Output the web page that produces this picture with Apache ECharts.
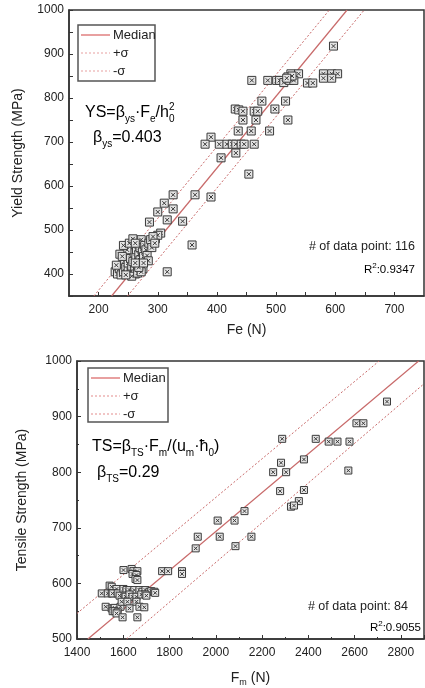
<!DOCTYPE html>
<html>
<head>
<meta charset="utf-8">
<script src="https://cdn.jsdelivr.net/npm/echarts@6/dist/echarts.min.js"></script>
<style>
  html, body { margin: 0; padding: 0; background: #fff; }
  #main { width: 425px; height: 688px; }
</style>
</head>
<body>
<div id="main"></div>
<script>
// 屈服强度 vs Fe
var ysPoints = [
  [597,918],[580,855],[594,855],[604,855],[580,845],[594,845],[525,855],[538,855],
  [459,840],[486,840],[501,840],[506,840],[513,835],[523,840],[530,840],[553,834],[562,834],
  [520,848],[527,850],[518,845],
  [476,793],[516,793],[431,775],[437,773],[444,770],[463,770],[469,770],[498,775],
  [444,750],[466,750],[520,750],[436,725],[458,725],[489,725],[390,711],
  [380,695],[404,695],[417,695],[426,695],[432,695],[441,695],[446,695],[463,695],
  [432,675],[407,664],[454,627],[363,580],[390,575],[326,580],[311,561],[326,548],
  [300,541],[286,518],[316,523],[342,520],[305,493],[358,466],[316,405],[296,480],[300,488],
  [228,405],[232,400],[235,412],[238,398],[240,420],[242,405],[244,430],[245,440],
  [246,415],[248,400],[250,410],[250,425],[252,445],[254,435],[255,402],[256,418],
  [258,460],[258,428],[260,448],[261,410],[262,400],[263,438],[264,455],[265,470],
  [266,420],[268,445],[270,432],[270,460],[272,478],[274,450],[275,412],[276,440],
  [278,465],[280,455],[282,442],[285,470],[288,478],[290,460],[292,485],[295,470],
  [248,455],[236,445],[242,465],[252,470],[258,480],[262,470],[230,420],[240,440],
  [256,395],[266,402],[272,405],[284,430],[268,415],[246,398],[276,425],[262,425]
];
var ysMedian = [[222,350],[620,1000]];
var ysPlus = [[192,350],[590,1000]];
var ysMinus = [[249,350],[649,1000]];

// 抗拉强度 vs Fm
var tsPoints = [
  [2740,927],[2608,888],[2638,888],[2287,860],[2432,860],[2488,855],[2526,855],[2578,855],
  [2381,823],[2282,817],[2248,800],[2304,800],[2573,803],[2278,766],[2381,768],[2359,748],
  [2325,738],[2338,740],[2124,730],[2008,713],[2081,713],[1922,684],[2017,684],[2154,684],
  [1913,663],[2085,667],[1768,622],[1794,622],[1854,622],[1854,617],
  [1601,624],[1636,626],[1644,622],[1661,622],[1640,617],[1657,615],[1653,608],[1661,606],
  [1541,596],[1550,594],[1571,590],[1507,582],[1533,582],[1550,582],[1554,582],[1576,582],
  [1601,590],[1614,588],[1627,588],[1644,585],[1648,588],[1670,588],[1683,585],[1696,588],
  [1713,585],[1721,586],[1734,585],[1738,583],
  [1584,578],[1606,578],[1610,576],[1627,580],[1640,576],[1657,576],[1678,580],[1696,580],[1700,578],
  [1524,558],[1550,555],[1558,555],[1563,556],[1588,558],[1593,567],[1618,567],[1627,555],
  [1657,567],[1670,558],[1691,557],
  [1554,550],[1563,550],[1576,548],[1571,546],[1597,539],[1661,539]
];
var tsMedian = [[1447,500],[2877,1000]];
var tsPlus = [[1400,546],[2706,1000]];
var tsMinus = [[1614,500],[2900,959]];

var FONT = '"Liberation Sans", Arial, sans-serif';
var AX = '#333';
var RED = '#c86a6a';
var SYM = 'path://M0,0H10V10H0Z M2.5,2.5L7.5,7.5 M7.5,2.5L2.5,7.5';

function axisBase(extra) {
  var a = {
    axisLine: { onZero: false, lineStyle: { color: AX, width: 1.5 } },
    axisTick: { inside: true, length: 4, lineStyle: { color: AX } },
    minorTick: { show: true, splitNumber: 2, length: 2, lineStyle: { color: AX } },
    splitLine: { show: false },
    axisLabel: { color: '#222', fontSize: 12, fontFamily: FONT, margin: 8 },
    nameTextStyle: { color: '#222', fontSize: 14, fontFamily: FONT }
  };
  for (var k in extra) a[k] = extra[k];
  return a;
}
function hundreds(v) { return v % 100 === 0 ? String(v) : ''; }
function plain(v) { return String(v); }

var subRich = {
  a: { fontSize: 16, fontFamily: FONT, color: '#222', lineHeight: 22 },
  s: { fontSize: 10, fontFamily: FONT, color: '#222', lineHeight: 10, verticalAlign: 'bottom' },
  z: { fontSize: 10, fontFamily: FONT, color: '#222', lineHeight: 10, verticalAlign: 'bottom', width: 0.01 },
  p: { fontSize: 10, fontFamily: FONT, color: '#222', lineHeight: 10, verticalAlign: 'top' }
};

function legendBox(x, y, w, h, dy) {
  var items = [];
  items.push({ type: 'rect', shape: { x: x, y: y, width: w, height: h },
    style: { fill: '#fff', stroke: '#555', lineWidth: 1.5 }, z: 10 });
  var rows = [['Median', 'solid', 2], ['+σ', [2, 2], 1.2], ['-σ', [2, 2], 1.2]];
  rows.forEach(function (r, i) {
    var yy = y + 10 + i * dy;
    items.push({ type: 'line', shape: { x1: x + 3, y1: yy, x2: x + 32, y2: yy },
      style: { stroke: '#e8a0a0', lineWidth: r[2], lineDash: r[1] === 'solid' ? null : r[1] }, z: 11 });
    items.push({ type: 'text', x: x + 35, y: yy, z: 11,
      style: { text: r[0], fill: '#222', font: '13px ' + FONT, verticalAlign: 'middle' } });
  });
  return items;
}

var chart = echarts.init(document.getElementById('main'), null, { renderer: 'canvas' });
var option = {
  animation: false,
  backgroundColor: '#fff',
  grid: [
    { left: 69, top: 10, width: 355, height: 286, show: true, borderColor: AX, borderWidth: 1.5 },
    { left: 77, top: 361, width: 347, height: 282, show: true, borderColor: AX, borderWidth: 1.5 }
  ],
  xAxis: [
    axisBase({ gridIndex: 0, type: 'value', min: 150, max: 750, interval: 50,
      name: 'Fe (N)', nameLocation: 'middle', nameGap: 27,
      axisLabel: { color: '#222', fontSize: 12, fontFamily: FONT, margin: 8, formatter: hundreds, showMinLabel: false, showMaxLabel: false },
      minorTick: { show: false } }),
    axisBase({ gridIndex: 1, type: 'value', min: 1400, max: 2900, interval: 200,
      name: '{a|F}{s|m}{a| (N)}', nameLocation: 'middle', nameGap: 30,
      nameTextStyle: { rich: {
        a: { fontSize: 14, fontFamily: FONT, color: '#222', lineHeight: 18 },
        s: { fontSize: 9, fontFamily: FONT, color: '#222', lineHeight: 9, verticalAlign: 'bottom' } } },
      axisLabel: { color: '#222', fontSize: 12, fontFamily: FONT, margin: 8, formatter: plain, showMaxLabel: false } })
  ],
  yAxis: [
    axisBase({ gridIndex: 0, type: 'value', min: 350, max: 1000, interval: 50,
      name: 'Yield Strength (MPa)', nameLocation: 'middle', nameGap: 44,
      axisLabel: { color: '#222', fontSize: 12, fontFamily: FONT, margin: 5, formatter: hundreds },
      minorTick: { show: false } }),
    axisBase({ gridIndex: 1, type: 'value', min: 500, max: 1000, interval: 100,
      name: 'Tensile Strength (MPa)', nameLocation: 'middle', nameGap: 48,
      axisLabel: { color: '#222', fontSize: 12, fontFamily: FONT, margin: 5, formatter: plain } })
  ],
  series: [
    { type: 'line', xAxisIndex: 0, yAxisIndex: 0, data: ysMedian, showSymbol: false, silent: true,
      lineStyle: { color: RED, width: 1.2 }, z: 1 },
    { type: 'line', xAxisIndex: 0, yAxisIndex: 0, data: ysPlus, showSymbol: false, silent: true,
      lineStyle: { color: RED, width: 1, type: [2, 2] }, z: 1 },
    { type: 'line', xAxisIndex: 0, yAxisIndex: 0, data: ysMinus, showSymbol: false, silent: true,
      lineStyle: { color: RED, width: 1, type: [2, 2] }, z: 1 },
    { type: 'scatter', xAxisIndex: 0, yAxisIndex: 0, data: ysPoints, symbol: SYM, symbolSize: 8,
      itemStyle: { color: '#e4e4e4', borderColor: '#3a3a3a', borderWidth: 1, opacity: 1 }, z: 2 },
    { type: 'line', xAxisIndex: 1, yAxisIndex: 1, data: tsMedian, showSymbol: false, silent: true,
      lineStyle: { color: RED, width: 1.2 }, z: 1 },
    { type: 'line', xAxisIndex: 1, yAxisIndex: 1, data: tsPlus, showSymbol: false, silent: true,
      lineStyle: { color: RED, width: 1, type: [2, 2] }, z: 1 },
    { type: 'line', xAxisIndex: 1, yAxisIndex: 1, data: tsMinus, showSymbol: false, silent: true,
      lineStyle: { color: RED, width: 1, type: [2, 2] }, z: 1 },
    { type: 'scatter', xAxisIndex: 1, yAxisIndex: 1, data: tsPoints, symbol: SYM, symbolSize: 7,
      itemStyle: { color: '#e4e4e4', borderColor: '#3a3a3a', borderWidth: 1, opacity: 1 }, z: 2 }
  ],
  graphic: [].concat(
    legendBox(78, 25, 77, 56, 18),
    legendBox(88, 368, 80, 54, 18),
    [
      { type: 'text', x: 85, y: 113, z: 12, style: {
          text: '{a|YS=β}{s|ys}{a|·F}{s|e}{a|/h}{z|0}{p|2}', rich: subRich, verticalAlign: 'middle' } },
      { type: 'text', x: 93, y: 138, z: 12, style: {
          text: '{a|β}{s|ys}{a|=0.403}', rich: subRich, verticalAlign: 'middle' } },
      { type: 'text', x: 92, y: 447, z: 12, style: {
          text: '{a|TS=β}{s|TS}{a|·F}{s|m}{a|/(u}{s|m}{a|·ħ}{s|0}{a|)}', rich: subRich, verticalAlign: 'middle' } },
      { type: 'text', x: 97, y: 473, z: 12, style: {
          text: '{a|β}{s|TS}{a|=0.29}', rich: subRich, verticalAlign: 'middle' } },
      { type: 'text', x: 415, y: 247, z: 12, style: {
          text: '# of data point: 116', fill: '#222', font: '12.5px ' + FONT, align: 'right', verticalAlign: 'middle' } },
      { type: 'text', x: 415, y: 270, z: 12, style: {
          text: '{a|R}{p|2}{a|:0.9347}', align: 'right', verticalAlign: 'middle',
          rich: { a: { fontSize: 11.5, fontFamily: FONT, color: '#222', lineHeight: 16 },
                  p: { fontSize: 8, fontFamily: FONT, color: '#222', lineHeight: 8, verticalAlign: 'top' } } } },
      { type: 'text', x: 408, y: 607, z: 12, style: {
          text: '# of data point: 84', fill: '#222', font: '12.5px ' + FONT, align: 'right', verticalAlign: 'middle' } },
      { type: 'text', x: 421, y: 628, z: 12, style: {
          text: '{a|R}{p|2}{a|:0.9055}', align: 'right', verticalAlign: 'middle',
          rich: { a: { fontSize: 11.5, fontFamily: FONT, color: '#222', lineHeight: 16 },
                  p: { fontSize: 8, fontFamily: FONT, color: '#222', lineHeight: 8, verticalAlign: 'top' } } } }
    ]
  )
};
chart.setOption(option);
</script>
</body>
</html>
